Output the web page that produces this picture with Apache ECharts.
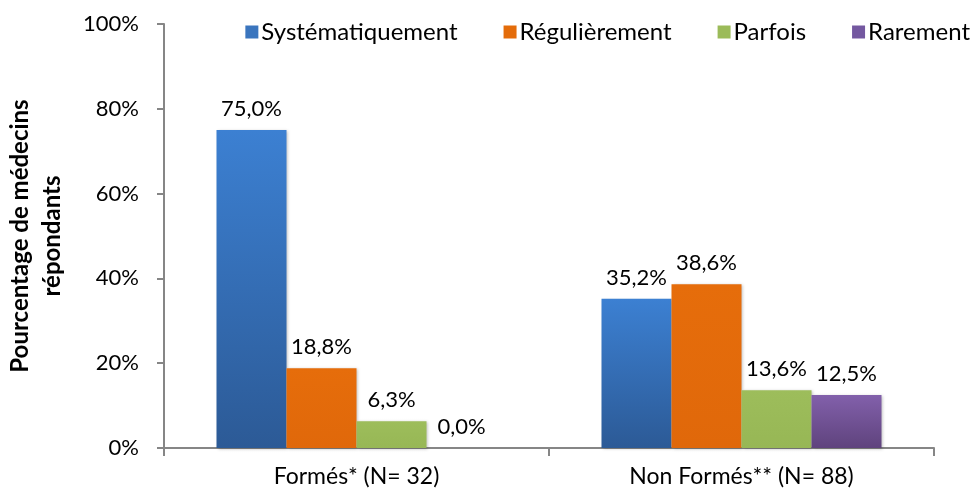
<!DOCTYPE html>
<html>
<head>
<meta charset="utf-8">
<script src="https://cdn.jsdelivr.net/npm/echarts@6/dist/echarts.min.js"></script>
<style>
html,body{margin:0;padding:0;background:#fff;}
#c{width:977px;height:495px;}
</style>
</head>
<body>
<div id="c"></div>
<script>
var categories = ['Formés* (N= 32)', 'Non Formés** (N= 88)'];
var seriesNames = ['Systématiquement', 'Régulièrement', 'Parfois', 'Rarement'];
var systematiquement = [75.0, 35.2];
var regulierement = [18.8, 38.6];
var parfois = [6.3, 13.6];
var rarement = [0.0, 12.5];
var yTicks = [0, 20, 40, 60, 80, 100];

var FONT = 'Lato';
function grad(top, bottom) {
  return new echarts.graphic.LinearGradient(0, 0, 0, 1, [
    {offset: 0, color: top}, {offset: 1, color: bottom}
  ]);
}
var styles = [
  {color: grad('#3C80D2', '#2C5A96'), legend: '#3A75BE'},
  {color: grad('#E66D0B', '#E0680A'), legend: '#E46C0A'},
  {color: grad('#9DBD5B', '#97B755'), legend: '#9BBB59'},
  {color: grad('#8260AB', '#5F437D'), legend: '#7458A0'}
];
var values = [systematiquement, regulierement, parfois, rarement];

var series = seriesNames.map(function (name, i) {
  return {
    name: name,
    type: 'bar',
    barWidth: 70,
    barGap: '0%',
    data: values[i],
    itemStyle: {
      color: styles[i].color,
      shadowColor: 'rgba(0,0,0,0.25)',
      shadowBlur: 3,
      shadowOffsetX: 1,
      shadowOffsetY: 1
    },
    label: {
      show: true,
      position: 'top',
      distance: 10,
      color: '#000',
      fontFamily: FONT,
      fontSize: 22,
      formatter: function (p) { return p.value.toFixed(1).replace('.', ',') + '%'; }
    }
  };
});

var chart = echarts.init(document.getElementById('c'));
chart.setOption({
  animation: false,
  backgroundColor: '#fff',
  legend: {
    top: 15,
    right: 2,
    itemWidth: 13,
    itemHeight: 13,
    itemGap: 46,
    icon: 'rect',
    textStyle: {fontFamily: FONT, fontSize: 24, color: '#000', padding: [0, 0, 0, -2]},
    data: seriesNames.map(function (n, i) { return {name: n, itemStyle: {color: styles[i].legend}}; })
  },
  grid: {left: 164, right: 43, top: 24, bottom: 47, containLabel: false, outerBoundsMode: 'none'},
  xAxis: {
    type: 'category',
    data: categories,
    axisLine: {lineStyle: {color: '#868686', width: 2}},
    axisTick: {show: true, length: 8, lineStyle: {color: '#868686', width: 2}},
    axisLabel: {fontFamily: FONT, fontSize: 23, color: '#000', margin: 17}
  },
  yAxis: {
    type: 'value',
    min: yTicks[0],
    max: yTicks[yTicks.length - 1],
    interval: 20,
    name: 'Pourcentage de médecins\nrépondants',
    nameLocation: 'middle',
    nameRotate: 90,
    nameGap: 96,
    nameTextStyle: {fontFamily: FONT, fontSize: 24, fontWeight: 'bold', color: '#000', lineHeight: 32},
    axisLine: {show: true, lineStyle: {color: '#868686', width: 2}},
    axisTick: {show: true, length: 7, lineStyle: {color: '#868686', width: 2}},
    splitLine: {show: false},
    axisLabel: {fontFamily: FONT, fontSize: 22, color: '#000', margin: 25,
      formatter: function (v) { return v + '%'; }}
  },
  series: series
});
</script>
</body>
</html>
